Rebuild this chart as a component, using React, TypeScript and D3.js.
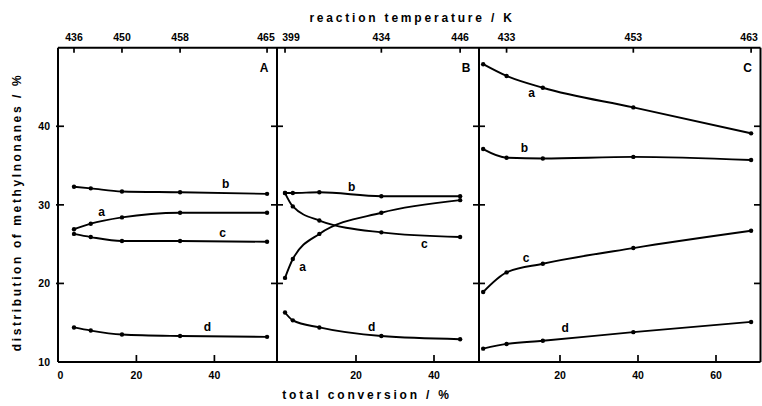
import React from "react";
import * as d3 from "d3";

// ---- data ----
const panelNames = ["A", "B", "C"];
const convA = [4, 8.3, 16.3, 31.2, 53.5];
const aA = [26.9, 27.6, 28.4, 29.0, 29.0];
const bA = [32.3, 32.1, 31.7, 31.6, 31.4];
const cA = [26.3, 25.9, 25.4, 25.4, 25.3];
const dA = [14.4, 14.0, 13.5, 13.3, 13.2];

const convB = [1.8, 3.8, 10.6, 26.5, 46.7];
const aB = [20.7, 23.1, 26.3, 29.0, 30.6];
const bB = [31.5, 31.5, 31.6, 31.1, 31.1];
const cB = [31.5, 29.8, 28.0, 26.5, 25.9];
const dB = [16.3, 15.3, 14.4, 13.3, 12.9];

const convC = [0.3, 6.3, 15.6, 38.8, 69];
const aC = [47.9, 46.4, 44.9, 42.4, 39.1];
const bC = [37.1, 36.0, 35.9, 36.1, 35.7];
const cC = [18.9, 21.4, 22.5, 24.5, 26.7];
const dC = [11.7, 12.3, 12.7, 13.8, 15.1];

const tempA = [436, 450, 458, 465];
const tempConvA = [4, 16.3, 31.2, 53.5];
const tempB = [399, 434, 446];
const tempConvB = [1.8, 26.5, 46.7];
const tempC = [433, 453, 463];
const tempConvC = [6.3, 38.8, 69];

const xTicksA = [0, 20, 40];
const xTicksB = [20, 40];
const xTicksC = [20, 40, 60];
const yTicks = [10, 20, 30, 40];
const seriesNames = ["a", "b", "c", "d"];

// curve label anchors (conversion, value)
const labelXA = [11.1, 42.9, 42.1, 38.2];
const labelYA = [29.1, 32.7, 26.4, 14.5];
const labelXB = [6.3, 18.9, 37.5, 24.0];
const labelYB = [22.1, 32.3, 25.1, 14.5];
const labelXC = [12.7, 10.9, 11.3, 21.3];
const labelYC = [44.2, 37.2, 23.3, 14.3];

// ---- layout ----
const W = 762, H = 406;
const yTop = 47.7, yBot = 362;
const unit = 3.9; // px per % conversion
const font = "'Liberation Sans', Arial, Helvetica, sans-serif";

const panels = [
  { name: panelNames[0], x0: 58, x1: 277, zero: 58.4, conv: convA, series: [aA, bA, cA, dA], temps: tempA, tconv: tempConvA, tshift: [0, 0, 0, -1], xt: xTicksA, lx: labelXA, ly: labelYA },
  { name: panelNames[1], x0: 277, x1: 479, zero: 278, conv: convB, series: [aB, bB, cB, dB], temps: tempB, tconv: tempConvB, tshift: [6, 0, 0], xt: xTicksB, lx: labelXB, ly: labelYB },
  { name: panelNames[2], x0: 479, x1: 760.5, zero: 482, conv: convC, series: [aC, bC, cC, dC], temps: tempC, tconv: tempConvC, tshift: [0, 0, -2], xt: xTicksC, lx: labelXC, ly: labelYC },
];

const y = d3.scaleLinear().domain([10, 50]).range([yBot, yTop]);

export default function App() {
  const sw = 1.9;
  return (
    <svg width={W} height={H} style={{ position: "absolute", left: 0, top: 0, background: "#fff" }} fontFamily={font}>
      <rect x={0} y={0} width={W} height={H} fill="#fff" />
      {/* titles */}
      <text x={412} y={22} textAnchor="middle" fontSize={12} fontWeight="bold" letterSpacing={2.8}>reaction temperature / K</text>
      <text x={367} y={399} textAnchor="middle" fontSize={12} fontWeight="bold" letterSpacing={2.8}>total conversion / %</text>
      <text transform={`translate(21,212) rotate(-90)`} textAnchor="middle" fontSize={12} fontWeight="bold" letterSpacing={2.6}>distribution of methylnonanes / %</text>

      {/* frame */}
      <line x1={58} x2={760.5} y1={yTop} y2={yTop} stroke="#000" strokeWidth={2} />
      <line x1={58} x2={760.5} y1={yBot} y2={yBot} stroke="#000" strokeWidth={2} />
      {panels.map((p, i) => (
        <line key={"v" + i} x1={p.x0} x2={p.x0} y1={yTop} y2={yBot} stroke="#000" strokeWidth={2} />
      ))}
      <line x1={760.5} x2={760.5} y1={yTop} y2={yBot} stroke="#000" strokeWidth={2} />

      {/* y ticks and labels */}
      {yTicks.map((t) => (
        <text key={"yl" + t} x={50} y={y(t)} dy="0.35em" textAnchor="end" fontSize={10.5} fontWeight="bold">{t}</text>
      ))}
      {yTicks.filter((t) => t > 10).map((t) => (
        <g key={"yt" + t}>
          <line x1={56} x2={64} y1={y(t)} y2={y(t)} stroke="#000" strokeWidth={1.7} />
          <line x1={panels[1].x0 - 6} x2={panels[1].x0 + 6} y1={y(t)} y2={y(t)} stroke="#000" strokeWidth={1.7} />
          <line x1={panels[2].x0 - 6} x2={panels[2].x0 + 6} y1={y(t)} y2={y(t)} stroke="#000" strokeWidth={1.7} />
          <line x1={754} x2={760.5} y1={y(t)} y2={y(t)} stroke="#000" strokeWidth={1.7} />
        </g>
      ))}

      {panels.map((p, pi) => {
        const x = d3.scaleLinear()
          .domain([(p.x0 - p.zero) / unit, (p.x1 - p.zero) / unit])
          .range([p.x0, p.x1]);
        const line = d3.line<number>()
          .x((_, i) => x(p.conv[i]))
          .y((v) => y(v))
          .curve(d3.curveMonotoneX);
        return (
          <g key={"p" + pi}>
            {/* bottom ticks */}
            {p.xt.map((t) => (
              <g key={"xt" + t}>
                {t > 0 && <line x1={x(t)} x2={x(t)} y1={yBot} y2={yBot - 7} stroke="#000" strokeWidth={1.7} />}
                <text x={x(t) + (t === 0 ? 2 : 0)} y={379} textAnchor="middle" fontSize={10.5} fontWeight="bold">{t}</text>
              </g>
            ))}
            {/* top temperature ticks */}
            {p.temps.map((t, i) => (
              <g key={"tt" + i}>
                <line x1={x(p.tconv[i])} x2={x(p.tconv[i])} y1={yTop} y2={yTop + 5} stroke="#000" strokeWidth={1.7} />
                <text x={x(p.tconv[i]) + p.tshift[i]} y={41} textAnchor="middle" fontSize={10.5} fontWeight="bold">{t}</text>
              </g>
            ))}
            {/* panel letter */}
            <text x={p.x1 - 13} y={72} textAnchor="middle" fontSize={12} fontWeight="bold">{p.name}</text>
            {/* series */}
            {p.series.map((s, si) => (
              <g key={"s" + si}>
                <path d={line(s) || ""} fill="none" stroke="#000" strokeWidth={sw} />
                {s.map((v, i) => (
                  <circle key={i} cx={x(p.conv[i])} cy={y(v)} r={2.2} fill="#000" />
                ))}
                <text x={x(p.lx[si])} y={y(p.ly[si])} dy="0.35em" textAnchor="middle" fontSize={12} fontWeight="bold">{seriesNames[si]}</text>
              </g>
            ))}
          </g>
        );
      })}
    </svg>
  );
}
